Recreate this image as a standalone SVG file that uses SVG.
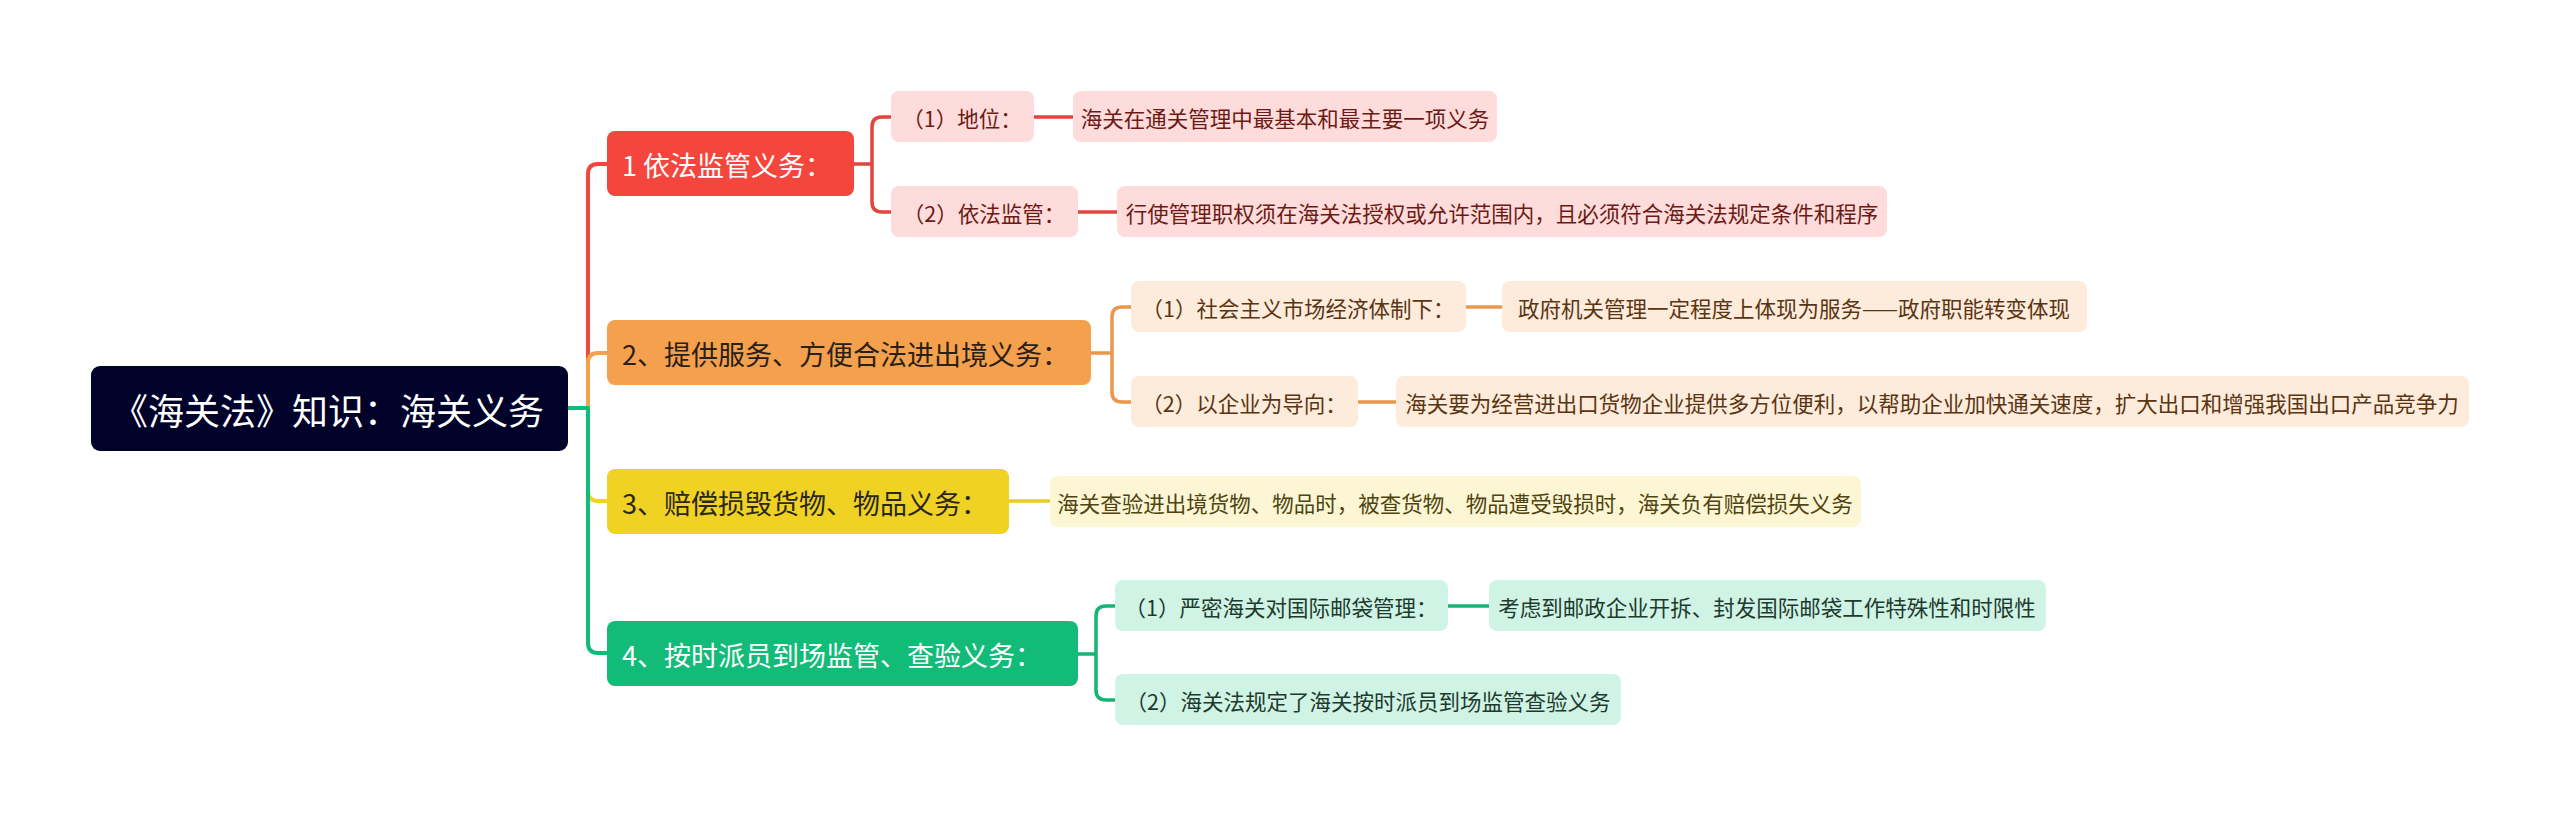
<svg xmlns="http://www.w3.org/2000/svg" width="2560" height="816" viewBox="0 0 2560 816">
<style>
text{font-family:"Noto Sans CJK SC","Noto Sans",sans-serif;dominant-baseline:central;text-anchor:middle}
.root text{font-size:36px;fill:#ffffff}
.main text{font-size:27px;text-anchor:start}
.sub text{font-size:21.5px}
.c path{fill:none;stroke-linecap:round;stroke-linejoin:round}
.l1{stroke-width:4}
.l2{stroke-width:3.5}
</style>
<g class="c" id="connectors">
<path class="l1" stroke="#F5463E" d="M568 408H588V174Q588 164 598 164H607"/>
<path class="l1" stroke="#F4A04C" d="M568 408H588V363Q588 353 598 353H607"/>
<path class="l1" stroke="#F0D225" d="M568 408H588V491Q588 501 598 501H607"/>
<path class="l1" stroke="#12BB78" d="M568 408H588V643Q588 653 598 653H607"/>
<path class="l2" stroke="#E2453D" d="M854 164H872V127Q872 117 882 117H891M872 164V202Q872 212 882 212H891"/>
<path class="l2" stroke="#E9974A" d="M1091 353H1112V317Q1112 307 1122 307H1131M1112 353V392Q1112 402 1122 402H1131"/>
<path class="l2" stroke="#EBCB2A" d="M1009 501H1050"/>
<path class="l2" stroke="#14B574" d="M1078 654H1096V616Q1096 606 1106 606H1115M1096 654V690Q1096 700 1106 700H1115"/>
<path class="l2" stroke="#E2453D" d="M1034 117H1073M1078 212H1117"/>
<path class="l2" stroke="#E9974A" d="M1466 307H1502M1358 402H1396"/>
<path class="l2" stroke="#14B574" d="M1448 606H1489"/>
</g>
<g class="root" id="root"><rect x="91" y="366" width="477" height="85" rx="9" fill="#000229"/><text x="328" y="409">《海关法》知识：海关义务</text></g>
<g class="main" id="n1"><rect x="607" y="131" width="247" height="65" rx="8" fill="#F5463E"/><text x="622" y="164" fill="#ffffff">1 依法监管义务：</text></g>
<g class="main" id="n2"><rect x="607" y="320" width="484" height="65" rx="8" fill="#F4A04C"/><text x="622" y="353" fill="#2a2016">2、提供服务、方便合法进出境义务：</text></g>
<g class="main" id="n3"><rect x="607" y="469" width="402" height="65" rx="8" fill="#F0D225"/><text x="622" y="502" fill="#2a2816">3、赔偿损毁货物、物品义务：</text></g>
<g class="main" id="n4"><rect x="607" y="621" width="471" height="65" rx="8" fill="#12BB78"/><text x="622" y="654" fill="#ffffff">4、按时派员到场监管、查验义务：</text></g>
<g class="sub" id="n1a"><rect x="891" y="91" width="143" height="51" rx="8" fill="#FDDCDB"/><text x="962" y="117" fill="#6E1A14">（1）地位：</text></g>
<g class="sub" id="n1a1"><rect x="1073" y="91" width="424" height="51" rx="8" fill="#FDDCDB"/><text x="1285" y="117" fill="#6E1A14">海关在通关管理中最基本和最主要一项义务</text></g>
<g class="sub" id="n1b"><rect x="891" y="186" width="187" height="51" rx="8" fill="#FDDCDB"/><text x="984" y="212" fill="#6E1A14">（2）依法监管：</text></g>
<g class="sub" id="n1b1"><rect x="1117" y="186" width="770" height="51" rx="8" fill="#FDDCDB"/><text x="1502" y="212" fill="#6E1A14">行使管理职权须在海关法授权或允许范围内，且必须符合海关法规定条件和程序</text></g>
<g class="sub" id="n2a"><rect x="1131" y="281" width="335" height="51" rx="8" fill="#FDEBDC"/><text x="1298" y="307" fill="#5A3512">（1）社会主义市场经济体制下：</text></g>
<g class="sub" id="n2a1"><rect x="1502" y="281" width="585" height="51" rx="8" fill="#FDEBDC"/><text x="1794" y="307" fill="#5A3512">政府机关管理一定程度上体现为服务——政府职能转变体现</text></g>
<g class="sub" id="n2b"><rect x="1131" y="376" width="227" height="51" rx="8" fill="#FDEBDC"/><text x="1244" y="402" fill="#5A3512">（2）以企业为导向：</text></g>
<g class="sub" id="n2b1"><rect x="1396" y="376" width="1073" height="51" rx="8" fill="#FDEBDC"/><text x="1932" y="402" fill="#5A3512">海关要为经营进出口货物企业提供多方位便利，以帮助企业加快通关速度，扩大出口和增强我国出口产品竞争力</text></g>
<g class="sub" id="n3a"><rect x="1050" y="476" width="811" height="51" rx="8" fill="#FDF6D4"/><text x="1455" y="502" fill="#4F4410">海关查验进出境货物、物品时，被查货物、物品遭受毁损时，海关负有赔偿损失义务</text></g>
<g class="sub" id="n4a"><rect x="1115" y="580" width="333" height="51" rx="8" fill="#CFF3E4"/><text x="1281" y="606" fill="#1E3A2E">（1）严密海关对国际邮袋管理：</text></g>
<g class="sub" id="n4a1"><rect x="1489" y="580" width="557" height="51" rx="8" fill="#CFF3E4"/><text x="1767" y="606" fill="#1E3A2E">考虑到邮政企业开拆、封发国际邮袋工作特殊性和时限性</text></g>
<g class="sub" id="n4b"><rect x="1115" y="674" width="506" height="51" rx="8" fill="#CFF3E4"/><text x="1368" y="700" fill="#1E3A2E">（2）海关法规定了海关按时派员到场监管查验义务</text></g>
</svg>
